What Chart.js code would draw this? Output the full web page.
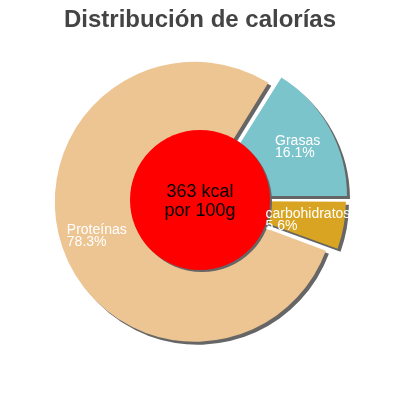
<!DOCTYPE html>
<html lang="es">
<head>
  <meta charset="UTF-8" />
  <title>Distribución de calorías</title>
  <script src="https://cdn.jsdelivr.net/npm/chart.js"></script>
  <style>
    html, body {
      margin: 0;
      padding: 0;
      background: #ffffff;
    }
    canvas {
      display: block;
    }
  </style>
</head>
<body>
  <canvas id="calorias" width="400" height="400"></canvas>

  <script>
    // data
    const categories = ['carbohidratos', 'Proteínas', 'Grasas'];
    const percents = [5.6, 78.3, 16.1];
    const energyLines = ['363 kcal', 'por 100g'];

    // looks
    const sliceColors = ['#d9a421', '#edc593', '#7bc4cc'];
    const explode = [24, 22, 32];   // chart.js offset (moves the slice by offset/4)
    const PIE_R = 140;
    const FONT = "'Liberation Sans', Arial, sans-serif";

    // chart.js grows the radius of exploded slices; keep them all the same size,
    // then add the drop shadow under the slices
    const sliceShadow = {
      id: 'sliceShadow',
      beforeDatasetsDraw(chart) {
        chart.getDatasetMeta(0).data.forEach((arc, i) => {
          const fix = 1 - Math.sin(Math.min(Math.PI, arc.circumference));
          arc.outerRadius = PIE_R - explode[i] / 4 * fix;
        });
        const ctx = chart.ctx;
        ctx.save();
        ctx.shadowColor = '#666666';
        ctx.shadowOffsetX = 3;
        ctx.shadowOffsetY = 3;
        ctx.shadowBlur = 0;
      },
      afterDatasetsDraw(chart) {
        const ctx = chart.ctx;
        ctx.restore();

        const arcs = chart.getDatasetMeta(0).data;
        const cx = arcs[0].x, cy = arcs[0].y;

        // red disc in the middle
        ctx.save();
        ctx.shadowColor = '#666666';
        ctx.shadowOffsetX = 2;
        ctx.shadowOffsetY = 2;
        ctx.fillStyle = '#ff0000';
        ctx.beginPath();
        ctx.arc(cx, cy, PIE_R / 2, 0, Math.PI * 2);
        ctx.fill();
        ctx.restore();

        // slice labels
        ctx.save();
        ctx.font = '14px ' + FONT;
        ctx.fillStyle = '#ffffff';
        ctx.textAlign = 'left';
        ctx.textBaseline = 'alphabetic';
        arcs.forEach((arc, i) => {
          const mid = (arc.startAngle + arc.endAngle) / 2;
          const t = explode[i] / 4;
          const ax = arc.x + Math.cos(mid) * (t + PIE_R * 0.74);
          const ay = arc.y + Math.sin(mid) * (t + PIE_R * 0.74);
          const lines = [categories[i], percents[i].toFixed(1) + '%'];
          const w = Math.max(...lines.map(l => ctx.measureText(l).width));
          ctx.fillText(lines[0], ax - w / 2, ay - 1);
          ctx.fillText(lines[1], ax - w / 2, ay + 11);
        });
        ctx.restore();

        // energy in the centre
        ctx.save();
        ctx.font = '18px ' + FONT;
        ctx.fillStyle = '#000000';
        ctx.textAlign = 'center';
        ctx.textBaseline = 'alphabetic';
        ctx.fillText(energyLines[0], cx, cy - 3);
        ctx.fillText(energyLines[1], cx, cy + 16);
        ctx.restore();
      }
    };

    new Chart(document.getElementById('calorias'), {
      type: 'pie',
      data: {
        labels: categories,
        datasets: [{
          data: percents,
          backgroundColor: sliceColors,
          borderWidth: 0,
          offset: explode
        }]
      },
      options: {
        responsive: false,
        animation: false,
        rotation: 90,
        radius: PIE_R,
        layout: { padding: { bottom: 34.8 } },
        plugins: {
          legend: { display: false },
          tooltip: { enabled: false },
          title: {
            display: true,
            text: 'Distribución de calorías',
            color: '#444444',
            font: { family: FONT, size: 24, weight: 'bold' },
            padding: { top: 6, bottom: 0 }
          }
        }
      },
      plugins: [sliceShadow]
    });
  </script>
</body>
</html>
